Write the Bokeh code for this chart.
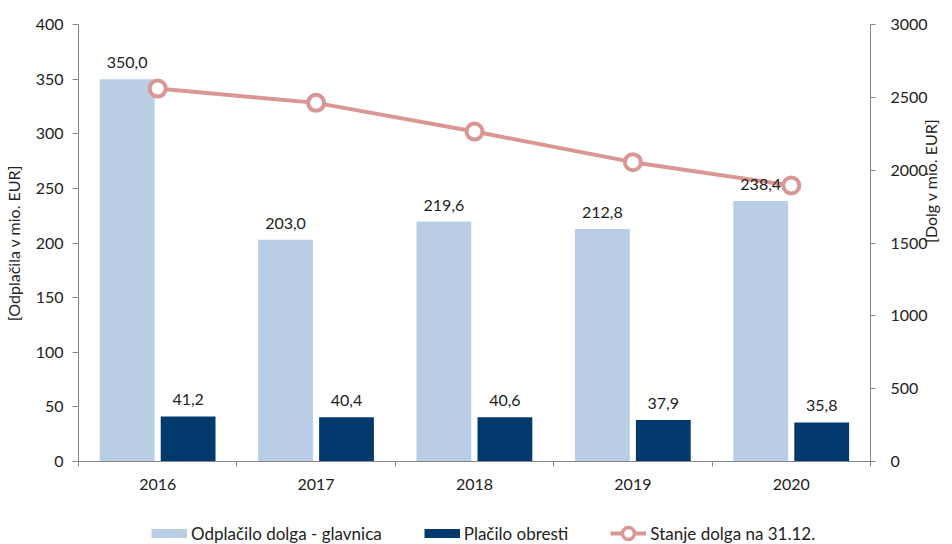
import math
import numpy as np
from bokeh.plotting import figure
from bokeh.layouts import column
from bokeh.core.properties import value
from bokeh.models import (ColumnDataSource, Range1d, LinearAxis, FixedTicker, Axis,
                          SingleIntervalTicker, LabelSet, Legend, LegendItem)
from bokeh.embed import file_html
from bokeh.resources import INLINE

years = ["2016", "2017", "2018", "2019", "2020"]
principal = [350.0, 203.0, 219.6, 212.8, 238.4]
interest = [41.2, 40.4, 40.6, 37.9, 35.8]
debt = [2560, 2462, 2265, 2055, 1895]
series_names = ["Odplačilo dolga - glavnica", "Plačilo obresti", "Stanje dolga na 31.12."]

FONT = "Lato"
FS = "16px"
TXT = "#222222"
AXC = "#868686"
LIGHT = "#B9CDE5"
DARK = "#033A6E"
PINK = "#D99694"

def fmt(v):
    return f"{v:.1f}".replace(".", ",")

pos = np.arange(len(years)) + 0.5
src = ColumnDataSource(dict(
    x=pos, xl=pos - 0.193, xd=pos + 0.192,
    principal=principal, interest=interest, debt=debt,
    pl=[fmt(v) for v in principal], il=[fmt(v) for v in interest],
))

p = figure(width=952, height=504, output_backend="svg", toolbar_location=None,
           x_range=Range1d(0, len(years)), y_range=Range1d(0, 400),
           min_border_left=78, min_border_right=79, min_border_top=24, min_border_bottom=43)
p.extra_y_ranges = {"debt": Range1d(0, 3000)}
p.outline_line_color = None
p.xgrid.visible = False
p.ygrid.visible = False
p.background_fill_color = "white"

# x axis
xa = p.xaxis[0]
xa.ticker = FixedTicker(ticks=list(pos), minor_ticks=list(range(len(years) + 1)))
xa.major_label_overrides = {float(v): y for v, y in zip(pos, years)}
xa.major_tick_out = 0
xa.major_tick_in = 0
xa.minor_tick_out = 5
xa.minor_tick_in = 0
xa.minor_tick_line_color = AXC
xa.axis_line_color = AXC
xa.major_label_standoff = 12
xa.major_label_text_font = FONT
xa.major_label_text_font_size = FS
xa.major_label_text_color = TXT

# left axis
ya = p.yaxis[0]
ya.ticker = SingleIntervalTicker(interval=50)
ya.minor_tick_line_color = None
ya.major_tick_out = 6
ya.major_tick_in = 0
ya.major_tick_line_color = AXC
ya.axis_line_color = AXC
ya.major_label_standoff = 9
ya.major_label_text_font = FONT
ya.major_label_text_font_size = FS
ya.major_label_text_color = TXT
ya.axis_label = "[Odplačila v mio. EUR]"
ya.axis_label_text_font = FONT
ya.axis_label_text_font_size = FS
ya.axis_label_text_font_style = "normal"
ya.axis_label_text_color = TXT
ya.axis_label_standoff = 10

# right axis
ra = LinearAxis(y_range_name="debt", ticker=SingleIntervalTicker(interval=500))
ra.minor_tick_line_color = None
ra.major_tick_out = 5
ra.major_tick_in = 0
ra.major_tick_line_color = AXC
ra.axis_line_color = AXC
ra.major_label_standoff = 15
ra.major_label_text_font = FONT
ra.major_label_text_font_size = FS
ra.major_label_text_color = TXT
ra.axis_label = "[Dolg v mio. EUR]"
ra.axis_label_text_font = FONT
ra.axis_label_text_font_size = FS
ra.axis_label_text_font_style = "normal"
ra.axis_label_text_color = TXT
ra.axis_label_standoff = 0
if "axis_label_orientation" in Axis.properties():
    ra.axis_label_orientation = math.pi / 2
p.add_layout(ra, "right")

# bars
rl = p.vbar(x="xl", top="principal", width=0.346, bottom=0, source=src,
            fill_color=LIGHT, line_color=None)
rd = p.vbar(x="xd", top="interest", width=0.346, bottom=0, source=src,
            fill_color=DARK, line_color=None)

# bar labels
for xcol, ycol, tcol in [("xl", "principal", "pl"), ("xd", "interest", "il")]:
    p.add_layout(LabelSet(x=xcol, y=ycol, text=tcol, source=src, level="glyph",
                          y_offset=11, text_align="center", text_baseline="bottom",
                          text_font=value(FONT), text_font_size=value(FS),
                          text_color=TXT))

# line
rline = p.line(x="x", y="debt", source=src, y_range_name="debt",
               line_color=PINK, line_width=4)
rcirc = p.scatter(x="x", y="debt", source=src, y_range_name="debt", size=16,
                  fill_color="white", line_color=PINK, line_width=4)

# legend strip (separate figure so nothing is clipped); its renderers use the
# same data but lie outside this strip's view, so only the legend shows
lf = figure(width=952, height=40, output_backend="svg", toolbar_location=None,
            x_range=Range1d(0, 1), y_range=Range1d(-2, -1),
            x_axis_location=None, y_axis_location=None, min_border=0)
lf.outline_line_color = None
lf.xgrid.visible = False
lf.ygrid.visible = False
g1 = lf.line(x="x", y="principal", source=src, line_color=LIGHT, line_width=9)
g2 = lf.line(x="x", y="interest", source=src, line_color=DARK, line_width=9)
g3 = lf.line(x="x", y="debt", source=src, line_color=PINK, line_width=4)
g4 = lf.scatter(x="x", y="debt", source=src, size=12, fill_color="white",
                line_color=PINK, line_width=3.5)
legend = Legend(items=[
    LegendItem(label=series_names[0], renderers=[g1]),
    LegendItem(label=series_names[1], renderers=[g2]),
    LegendItem(label=series_names[2], renderers=[g3, g4]),
], location=(73, -4), orientation="horizontal", spacing=42,
    glyph_width=36, glyph_height=30, label_standoff=4, padding=0, margin=0,
    label_text_font=FONT, label_text_font_size="17px", label_text_color=TXT,
    background_fill_alpha=0, border_line_color=None)
lf.add_layout(legend, "center")

layout = column(p, lf, spacing=0)
open("out.html", "w").write(file_html(layout, INLINE))
